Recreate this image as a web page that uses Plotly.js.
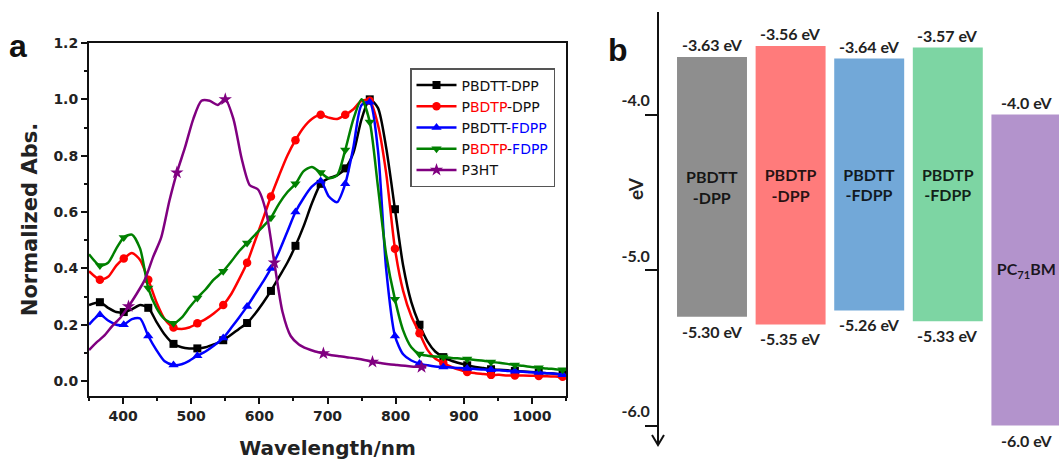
<!DOCTYPE html>
<html>
<head>
<meta charset="utf-8">
<script src="https://cdn.plot.ly/plotly-3.0.1.min.js"></script>
<style>html,body{margin:0;padding:0;background:#fff;}#chart{width:1059px;height:462px;}</style>
</head>
<body>
<div id="chart"></div>
<script>
// ---------- Panel a : absorption spectra ----------
const wavelength = [350,366,378,390,401,413,425,437,449,461,474,486,497,509,521,533,547,559,570,582,594,606,617,629,641,653,665,677,690,702,714,726,738,750,762,774,786,799,811,823,835,847,858,870,882,894,905,917,929,940,952,964,975,987,999,1010,1022,1034,1045,1050];
const absPBDTT_DPP = [0.27,0.28,0.26,0.245,0.245,0.255,0.27,0.26,0.21,0.165,0.132,0.12,0.116,0.116,0.12,0.13,0.145,0.165,0.185,0.206,0.24,0.28,0.32,0.37,0.42,0.48,0.55,0.63,0.70,0.72,0.73,0.755,0.81,0.93,1.0,0.97,0.83,0.61,0.41,0.28,0.20,0.14,0.105,0.085,0.072,0.063,0.056,0.05,0.046,0.042,0.04,0.038,0.036,0.034,0.032,0.03,0.028,0.026,0.022,0.02];
const absPBDTP_DPP = [0.39,0.36,0.37,0.41,0.435,0.455,0.43,0.36,0.28,0.22,0.19,0.185,0.19,0.205,0.22,0.24,0.27,0.31,0.36,0.42,0.50,0.58,0.655,0.73,0.80,0.855,0.90,0.93,0.945,0.935,0.93,0.945,0.965,0.995,0.995,0.91,0.74,0.47,0.32,0.23,0.17,0.11,0.08,0.064,0.05,0.04,0.032,0.028,0.025,0.022,0.022,0.02,0.02,0.02,0.019,0.018,0.017,0.016,0.015,0.015];
const absPBDTT_FDPP = [0.20,0.235,0.215,0.20,0.20,0.22,0.222,0.16,0.11,0.07,0.057,0.06,0.072,0.09,0.105,0.125,0.153,0.19,0.225,0.265,0.31,0.355,0.40,0.46,0.53,0.60,0.65,0.69,0.71,0.655,0.635,0.70,0.83,0.98,0.99,0.82,0.40,0.16,0.095,0.073,0.062,0.056,0.052,0.05,0.048,0.046,0.045,0.043,0.041,0.04,0.038,0.036,0.035,0.033,0.031,0.03,0.028,0.026,0.022,0.02];
const absPBDTP_FDPP = [0.45,0.41,0.42,0.47,0.51,0.52,0.47,0.33,0.26,0.22,0.205,0.225,0.26,0.295,0.325,0.36,0.39,0.425,0.46,0.49,0.52,0.55,0.58,0.63,0.67,0.70,0.745,0.76,0.74,0.72,0.73,0.82,0.93,1.0,0.92,0.69,0.45,0.29,0.18,0.12,0.096,0.09,0.087,0.085,0.082,0.08,0.078,0.075,0.072,0.068,0.065,0.061,0.057,0.054,0.05,0.047,0.045,0.042,0.04,0.04];
const wavelengthP3HT = [350,360,372,384,396,408,420,432,444,456,468,479,491,503,515,527,539,550,562,574,586,598,610,622,634,646,658,670,682,694,706,718,730,742,754,766,778,790,802,814,826,838,845];
const absP3HT = [0.11,0.135,0.16,0.195,0.225,0.265,0.31,0.36,0.44,0.51,0.64,0.74,0.83,0.93,0.995,0.995,0.98,1.0,0.93,0.79,0.695,0.68,0.60,0.42,0.245,0.16,0.13,0.115,0.105,0.098,0.092,0.088,0.084,0.08,0.075,0.068,0.064,0.06,0.057,0.054,0.051,0.05,0.048];

const seriesNames = [
  'PBDTT-DPP',
  'P<span style="color:#ff0000">BDTP</span>-DPP',
  'PBDTT-<span style="color:#0000ff">FDPP</span>',
  'P<span style="color:#ff0000">BDTP</span>-<span style="color:#0000ff">FDPP</span>',
  'P3HT'
];

// ---------- Panel b : energy levels ----------
const materials = ['PBDTT<br>-DPP','PBDTP<br>-DPP','PBDTT<br>-FDPP','PBDTP<br>-FDPP','PC<sub>71</sub>BM'];
const lumo = [-3.63,-3.56,-3.64,-3.57,-4.0];
const homo = [-5.30,-5.35,-5.26,-5.33,-6.0];
const lumoLabels = ['-3.63 eV','-3.56 eV','-3.64 eV','-3.57 eV','-4.0 eV'];
const homoLabels = ['-5.30 eV','-5.35 eV','-5.26 eV','-5.33 eV','-6.0 eV'];
const energyTicks = [-4.0,-5.0,-6.0];
const energyTickText = ['-4.0','-5.0','-6.0'];

// ---------- styles ----------
const colors = ['#000000','#ff0000','#0000ff','#008000','#800080'];
const symbols = ['square','circle','triangle-up','triangle-down','star'];
const msizes = [8,8.5,9,9,10];
const barColors = ['#8e8e8e','#ff7b7b','#72a8d8','#7dd5a3','#b393cc'];
const W = 1059, H = 462;

const polymerData = [absPBDTT_DPP, absPBDTP_DPP, absPBDTT_FDPP, absPBDTP_FDPP];
const traces = [];
function addSeries(k, xs, ys, every, offset) {
  traces.push({x: xs, y: ys, type:'scatter', mode:'lines', xaxis:'x', yaxis:'y',
    line:{color:colors[k], width:2.5, shape:'spline', smoothing:0.7}, showlegend:false, hoverinfo:'skip'});
  traces.push({x: xs.filter((_, i) => i % every === offset), y: ys.filter((_, i) => i % every === offset),
    type:'scatter', mode:'markers', xaxis:'x', yaxis:'y',
    marker:{color:colors[k], symbol:symbols[k], size:msizes[k]}, showlegend:false, hoverinfo:'skip'});
  traces.push({x:[null], y:[null], type:'scatter', mode:'lines+markers', xaxis:'x', yaxis:'y', name: seriesNames[k],
    line:{color:colors[k], width:2.5}, marker:{color:colors[k], symbol:symbols[k], size:msizes[k]}, showlegend:true});
}
polymerData.forEach((ys, k) => addSeries(k, wavelength, ys, 3, 1));
addSeries(4, wavelengthP3HT, absP3HT, 6, 5);

// energy bars
traces.push({
  type:'bar', x:[0,1,2,3,4], y: lumo.map((v,i) => v - homo[i]), base: homo,
  xaxis:'x2', yaxis:'y2', width:0.89, marker:{color:barColors, line:{width:0}},
  text: materials, textposition:'inside', insidetextanchor:'middle', constraintext:'none', textangle:0,
  insidetextfont:{family:'Lato', size:16, weight:700, color:'rgba(0,0,0,0.85)'},
  showlegend:false, hoverinfo:'skip'
});

const annotations = [];
lumo.forEach((v,i) => annotations.push({xref:'x2', yref:'y2', x:i, y:v, text:lumoLabels[i], showarrow:false,
  xanchor:'center', yanchor:'bottom', yshift:1, font:{family:'Lato', size:16, weight:700, color:'#222'}}));
homo.forEach((v,i) => annotations.push({xref:'x2', yref:'y2', x:i, y:v, text:homoLabels[i], showarrow:false,
  xanchor:'center', yanchor:'top', yshift:-3, font:{family:'Lato', size:16, weight:700, color:'#222'}}));
annotations.push({xref:'paper', yref:'paper', x:18/W, y:1-46/H, text:'a', showarrow:false, xanchor:'center', yanchor:'middle',
  font:{family:'Liberation Sans', size:32, weight:700, color:'#111'}});
annotations.push({xref:'paper', yref:'paper', x:618/W, y:1-50/H, text:'b', showarrow:false, xanchor:'center', yanchor:'middle',
  font:{family:'Liberation Sans', size:32, weight:700, color:'#111'}});
annotations.push({xref:'paper', yref:'paper', x:635/W, y:1-189/H, text:'eV', showarrow:false, textangle:-90, xanchor:'center', yanchor:'middle',
  font:{family:'Lato', size:19, weight:700, color:'#222'}});

const axisFont = {family:'DejaVu Sans', size:14, weight:700, color:'#222'};
const layout = {
  width: W, height: H, margin:{l:0, r:0, t:0, b:0}, paper_bgcolor:'#fff', plot_bgcolor:'rgba(0,0,0,0)',
  font:{family:'DejaVu Sans', color:'#222'},
  xaxis:{domain:[89/W, 566/W], range:[350,1050], tick0:0, dtick:100, ticks:'outside', ticklen:6, tickwidth:2,
    showline:true, linewidth:2, linecolor:'#111', mirror:true, showgrid:false, zeroline:false, tickcolor:'#111',
    minor:{dtick:50, ticks:'outside', ticklen:3, tickwidth:2, tickcolor:'#111'},
    tickfont:axisFont, title:{text:'Wavelength/nm', font:{family:'DejaVu Sans', size:20, weight:700, color:'#222'}, standoff:18}},
  yaxis:{domain:[1-396/H, 1-43/H], range:[-0.053,1.2], tick0:0, dtick:0.2, tickformat:'.1f', ticks:'outside', ticklen:6, tickwidth:2,
    showline:true, linewidth:2, linecolor:'#111', mirror:true, showgrid:false, zeroline:false, tickcolor:'#111',
    minor:{dtick:0.1, ticks:'outside', ticklen:3, tickwidth:2, tickcolor:'#111'},
    tickfont:axisFont, title:{text:'Normalized Abs.', font:{family:'DejaVu Sans', size:21, weight:700, color:'#222'}, standoff:10}},
  xaxis2:{domain:[659/W, 1], range:[(659-712)/78.6, (1059-712)/78.6], visible:false, anchor:'y2'},
  yaxis2:{domain:[1-445/H, 1-12/H], range:[-6.125,-3.341], anchor:'x2', showline:true, linewidth:2, linecolor:'#111',
    ticks:'outside', ticklen:12, tickwidth:2, tickcolor:'#111', tickvals:energyTicks, ticktext:energyTickText,
    ticklabelshift:-14, ticklabelstandoff:-8, showgrid:false, zeroline:false,
    tickfont:{family:'Lato', size:16, weight:700, color:'#222'}},
  legend:{x:410/W, y:1-68/H, xanchor:'left', yanchor:'top', bgcolor:'#fff', bordercolor:'#555', borderwidth:1.5,
    font:{family:'DejaVu Sans', size:14, color:'#111'}, itemwidth:40, tracegroupgap:0},
  shapes:[{type:'path', xref:'paper', yref:'paper', xsizemode:'pixel', ysizemode:'pixel', xanchor:658/W, yanchor:1-445/H,
    path:'M -6 10 L 0 0 L 6 10', line:{color:'#111', width:2}}],
  annotations: annotations,
  showlegend:true
};
Plotly.newPlot('chart', traces, layout, {displayModeBar:false, staticPlot:true});
</script>
</body>
</html>
